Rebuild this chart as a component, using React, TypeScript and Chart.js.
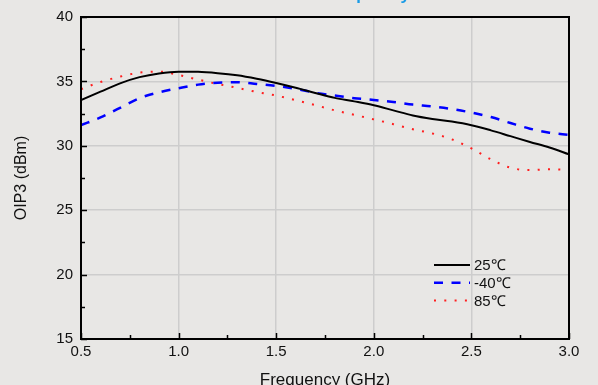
import React, { useEffect, useRef } from "react";
import { Chart, registerables } from "chart.js";

Chart.register(...registerables);

const freqGHz = [0.5, 0.6, 0.7, 0.8, 0.9, 1.0, 1.1, 1.2, 1.3, 1.4, 1.5, 1.6, 1.7, 1.8, 1.9, 2.0, 2.1, 2.2, 2.3, 2.4, 2.5, 2.6, 2.7, 2.8, 2.9, 3.0];
const oip3_25C = [33.55, 34.2, 34.85, 35.33, 35.62, 35.75, 35.74, 35.64, 35.47, 35.2, 34.87, 34.5, 34.1, 33.72, 33.45, 33.15, 32.75, 32.35, 32.08, 31.88, 31.6, 31.2, 30.75, 30.3, 29.87, 29.33];
const oip3_m40C = [31.6, 32.2, 32.95, 33.7, 34.15, 34.47, 34.75, 34.9, 34.93, 34.8, 34.65, 34.42, 34.12, 33.9, 33.7, 33.56, 33.4, 33.2, 33.05, 32.85, 32.58, 32.23, 31.77, 31.33, 31.02, 30.85];
const oip3_85C = [34.4, 34.95, 35.37, 35.68, 35.76, 35.5, 35.14, 34.8, 34.5, 34.18, 33.9, 33.54, 33.16, 32.75, 32.4, 32.05, 31.68, 31.28, 30.96, 30.5, 29.8, 28.95, 28.3, 28.12, 28.18, 28.14];
const seriesLabels = ["25\u2103", "-40\u2103", "85\u2103"];
const xTickValues = [0.5, 1.0, 1.5, 2.0, 2.5, 3.0];
const yTickValues = [15, 20, 25, 30, 35, 40];
const chartTitle = "OIP3 vs. Frequency";
const xTitle = "Frequency (GHz)";
const yTitle = "OIP3 (dBm)";

const FONT = '"Liberation Sans", Arial, sans-serif';

const toPoints = (ys: number[]) => freqGHz.map((f, i) => ({ x: f, y: ys[i] }));

const framePlugin = {
  id: "frame",
  afterDraw(chart: any) {
    const ctx = chart.ctx;
    const { left, right, top, bottom } = chart.chartArea;
    const xs = chart.scales.x;
    const ys = chart.scales.y;
    ctx.save();
    ctx.strokeStyle = "#000";
    ctx.lineWidth = 2;
    ctx.strokeRect(left, top, right - left, bottom - top);
    ctx.lineWidth = 1.5;
    ctx.beginPath();
    for (let i = 0; i <= 10; i++) {
      const v = 0.5 + i * 0.25;
      const px = Math.round(xs.getPixelForValue(v)) + 0.5;
      const len = i % 2 === 0 ? 6 : 4;
      ctx.moveTo(px, bottom);
      ctx.lineTo(px, bottom - len);
    }
    for (let i = 0; i <= 10; i++) {
      const v = 15 + i * 2.5;
      const py = Math.round(ys.getPixelForValue(v)) + 0.5;
      const len = i % 2 === 0 ? 6 : 4;
      ctx.moveTo(left, py);
      ctx.lineTo(left + len, py);
    }
    ctx.stroke();

    // legend
    chart.data.datasets.forEach((ds: any, i: number) => {
      const y = 265 + i * 17.8;
      ctx.beginPath();
      ctx.strokeStyle = ds.borderColor;
      ctx.lineWidth = ds.borderWidth;
      ctx.setLineDash(ds.borderDash || []);
      ctx.moveTo(434, y);
      ctx.lineTo(470, y);
      ctx.stroke();
      ctx.setLineDash([]);
      ctx.fillStyle = "#111";
      ctx.font = `15px ${FONT}`;
      ctx.textAlign = "left";
      ctx.textBaseline = "middle";
      ctx.fillText(ds.label, 474, y + 1);
    });

    // clipped title at top
    ctx.fillStyle = "#1a9be6";
    ctx.font = `bold 17px ${FONT}`;
    ctx.textAlign = "center";
    ctx.textBaseline = "alphabetic";
    ctx.fillText(chartTitle, 331, -0.5);
    ctx.restore();
  },
};

const bgPlugin = {
  id: "bg",
  beforeDraw(chart: any) {
    const ctx = chart.ctx;
    ctx.save();
    ctx.fillStyle = "#e8e7e5";
    ctx.fillRect(0, 0, chart.width, chart.height);
    ctx.restore();
  },
};

export default function App() {
  const ref = useRef<HTMLCanvasElement | null>(null);
  useEffect(() => {
    if (!ref.current) return;
    const chart = new Chart(ref.current, {
      type: "line",
      data: {
        datasets: [
          { label: seriesLabels[0], data: toPoints(oip3_25C), borderColor: "#000000", borderWidth: 2, pointRadius: 0, cubicInterpolationMode: "monotone", fill: false },
          { label: seriesLabels[1], data: toPoints(oip3_m40C), borderColor: "#0000ff", borderWidth: 2.5, borderDash: [9, 8.5], pointRadius: 0, cubicInterpolationMode: "monotone", fill: false },
          { label: seriesLabels[2], data: toPoints(oip3_85C), borderColor: "#ff1e1e", borderWidth: 2, borderDash: [2, 8.3], pointRadius: 0, cubicInterpolationMode: "monotone", fill: false },
        ],
      },
      options: {
        responsive: false,
        animation: false,
        events: [],
        layout: { padding: { top: 15, right: 29, left: 0, bottom: 0 } },
        plugins: { legend: { display: false }, tooltip: { enabled: false }, title: { display: false } },
        scales: {
          x: {
            type: "linear",
            min: 0.5,
            max: 3.0,
            afterBuildTicks: (s: any) => { s.ticks = xTickValues.map((v) => ({ value: v })); },
            afterFit: (s: any) => { s.height = 46; },
            ticks: { color: "#111", font: { family: FONT, size: 15 }, padding: 4, maxRotation: 0, callback: (v: any) => Number(v).toFixed(1) },
            grid: { color: "#cdcdcd", lineWidth: 1.5, drawTicks: false },
            border: { display: false },
            title: { display: true, text: xTitle, color: "#111", font: { family: FONT, size: 17 }, padding: { top: 0, bottom: -6 } },
          },
          y: {
            type: "linear",
            min: 15,
            max: 40,
            afterBuildTicks: (s: any) => { s.ticks = yTickValues.map((v) => ({ value: v })); },
            afterFit: (s: any) => { s.width = 81; },
            ticks: { color: "#111", font: { family: FONT, size: 15 }, padding: 8 },
            grid: { color: "#cdcdcd", lineWidth: 1.5, drawTicks: false },
            border: { display: false },
            title: { display: true, text: yTitle, color: "#111", font: { family: FONT, size: 16 }, padding: { top: 12, bottom: 0 } },
          },
        },
      },
      plugins: [bgPlugin, framePlugin],
    } as any);
    return () => chart.destroy();
  }, []);
  return (
    <div style={{ position: "absolute", left: 0, top: 0, width: 598, height: 385, overflow: "hidden", background: "#e8e7e5" }}>
      <canvas ref={ref} width={598} height={385} style={{ display: "block", width: 598, height: 385 }} />
    </div>
  );
}
